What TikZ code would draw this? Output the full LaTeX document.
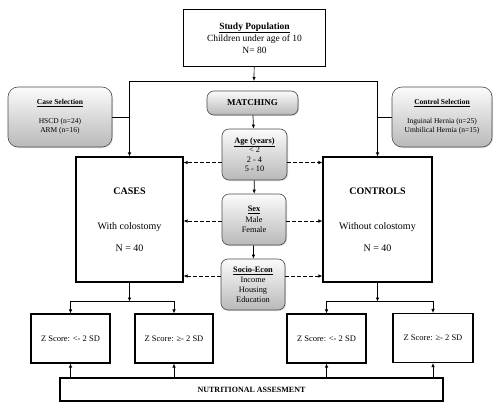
\documentclass[tikz,border=0pt]{standalone}
\usepackage{fontspec}
\setmainfont{Liberation Serif}
\usetikzlibrary{shapes,arrows.meta,positioning,shadows}
\tikzset{
    plainbox/.style = {rectangle, draw=black, line width=1.1pt, fill=white, text centered, align=center, inner sep=2pt},
    graybox/.style = {rectangle, rounded corners=7pt, draw=gray!60!black, line width=0.6pt, top color=gray!3, bottom color=gray!55, drop shadow={opacity=0.3, shadow xshift=1pt, shadow yshift=-1pt}, text centered, align=center, inner sep=2pt},
    line/.style = {draw, line width=0.7pt},
    arrow/.style = {line, -{Latex[length=4pt,width=3.5pt]}},
    dasharrow/.style = {arrow, dash pattern=on 3.5pt off 2.5pt}
}
\begin{document}
\begin{tikzpicture}[x=1pt, y=-1pt, font=\fontsize{9}{11}\selectfont]
    \useasboundingbox (0,0) rectangle (500,409);

    % top
    \node [plainbox, minimum width=142pt, minimum height=57pt, font=\fontsize{9.5}{12}\selectfont] (study) at (254.5,38) {\textbf{\underline{Study Population}}\\Children under age of 10\\N= 80};
    \node [graybox, rounded corners=10pt, minimum width=104pt, minimum height=60pt, font=\fontsize{7.5}{9.5}\selectfont] (caseSel) at (60,117) {\textbf{\underline{Case Selection}}\\[9pt]HSCD (n=24)\\ARM (n=16)};
    \node [graybox, rounded corners=10pt, minimum width=100pt, minimum height=60pt, font=\fontsize{7.5}{9.5}\selectfont] (ctrlSel) at (442,117) {\textbf{\underline{Control Selection}}\\[9pt]Inguinal Hernia (n=25)\\Umbilical Hernia (n=15)};

    % matching
    \node [graybox, minimum width=91pt, minimum height=24pt, font=\fontsize{9}{11}\selectfont] (matching) at (252.5,103) {\textbf{MATCHING}};
    \node [graybox, minimum width=65pt, minimum height=51pt, font=\fontsize{8.3}{9.5}\selectfont] (age) at (254.5,154.5) {\textbf{\underline{Age (years)}}\\< 2\\2 - 4\\5 - 10};
    \node [graybox, minimum width=64pt, minimum height=51pt, font=\fontsize{8.3}{10.5}\selectfont] (sex) at (254,219.5) {\textbf{\underline{Sex}}\\Male\\Female};
    \node [graybox, minimum width=64pt, minimum height=51pt, font=\fontsize{8.3}{9.8}\selectfont] (socio) at (253,284.5) {\textbf{\underline{Socio-Econ}}\\Income\\Housing\\Education};

    % groups
    \node [plainbox, minimum width=107pt, minimum height=125pt, font=\fontsize{10}{12}\selectfont] (cases) at (129.5,219.5) {\textbf{CASES}\\[23pt]With colostomy\\[10pt]N = 40};
    \node [plainbox, minimum width=109pt, minimum height=125pt, font=\fontsize{10}{12}\selectfont] (controls) at (377.5,219.5) {\textbf{CONTROLS}\\[23pt]Without colostomy\\[10pt]N = 40};

    % z scores
    \node [plainbox, minimum width=79pt, minimum height=49pt, font=\fontsize{8.5}{10}\selectfont] (z1) at (70.5,338.5) {Z Score: <- 2 SD};
    \node [plainbox, minimum width=78pt, minimum height=49pt, font=\fontsize{8.5}{10}\selectfont] (z2) at (174,338.5) {Z Score: ≥- 2 SD};
    \node [plainbox, minimum width=79pt, minimum height=49pt, font=\fontsize{8.5}{10}\selectfont] (z3) at (326.5,338.5) {Z Score: <- 2 SD};
    \node [plainbox, minimum width=80pt, minimum height=49pt, font=\fontsize{8.5}{10}\selectfont] (z4) at (433,338) {Z Score: ≥- 2 SD};
    \node [plainbox, minimum width=383pt, minimum height=23pt, font=\fontsize{8}{10}\selectfont] (nutri) at (251.5,389.5) {\textbf{NUTRITIONAL ASSESMENT}};

    % connectors
    \coordinate (split) at (254,81);
    \draw [arrow] (study) -- (split);
    \draw [arrow] (split) -| (cases);
    \draw [arrow] (split) -| (controls);
    \draw [line] (caseSel) -- (caseSel -| cases);
    \draw [line] (ctrlSel) -- (ctrlSel -| controls);

    \draw [arrow] (matching) -- (age);
    \draw [arrow] (age) -- (sex);
    \draw [arrow] (sex) -- (socio);

    \draw [dasharrow] ([yshift=-8pt]age.west) -- ([yshift=-8pt]age.west -| cases.east);
    \draw [dasharrow] ([yshift=-8pt]age.east) -- ([yshift=-8pt]age.east -| controls.west);
    \draw [dasharrow] ([yshift=-1.5pt]sex.west) -- ([yshift=-1.5pt]sex.west -| cases.east);
    \draw [dasharrow] ([yshift=-1.5pt]sex.east) -- ([yshift=-1.5pt]sex.east -| controls.west);
    \draw [dasharrow] ([yshift=8.5pt]socio.west) -- ([yshift=8.5pt]socio.west -| cases.east);
    \draw [dasharrow] ([yshift=8.5pt]socio.east) -- ([yshift=8.5pt]socio.east -| controls.west);

    \coordinate (caseFork) at ([yshift=-19pt]cases.south);
    \coordinate (ctrlFork) at ([yshift=-19pt]controls.south);
    \draw [arrow] (cases) -- (caseFork);
    \draw [arrow] (caseFork) -| (z1);
    \draw [arrow] (caseFork) -| (z2);
    \draw [arrow] (controls) -- (ctrlFork);
    \draw [arrow] (ctrlFork) -| (z3);
    \draw [arrow] (ctrlFork) -| (z4);

    \foreach \z in {z1,z2,z3,z4}
        \draw [arrow] (nutri.north -| \z) -- (\z);
\end{tikzpicture}
\end{document}
